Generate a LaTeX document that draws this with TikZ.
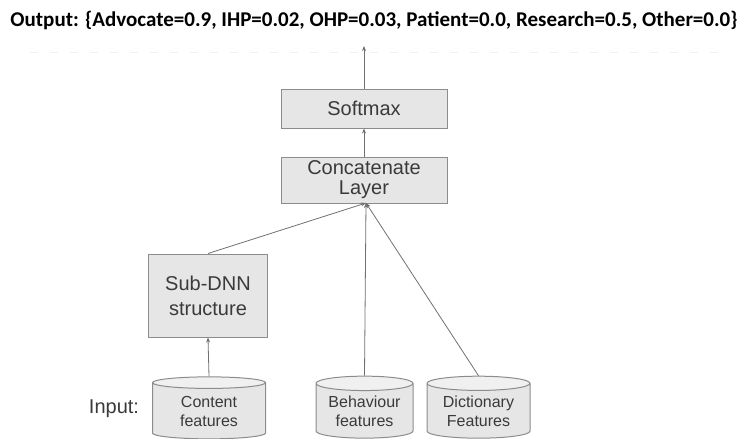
\documentclass[tikz,border=0pt]{standalone}
\usepackage{fontspec}
\setmainfont{Liberation Sans}
\newfontfamily\titlefont{Carlito}
\usepackage{tikz}
\usetikzlibrary{shapes.geometric,arrows.meta}

\definecolor{boxfill}{HTML}{E6E6E6}
\definecolor{boxline}{HTML}{8C8C8C}
\definecolor{boxtext}{HTML}{3A3A3A}
\definecolor{arrline}{HTML}{707070}

\tikzset{
  layer/.style={draw=boxline, fill=boxfill, line width=1pt, text=boxtext,
    font=\fontsize{20}{23}\selectfont, align=center, inner sep=0pt},
  store/.style={cylinder, shape border rotate=90, aspect=0.2, draw=boxline,
    line width=1pt, cylinder uses custom fill, cylinder body fill=boxfill,
    cylinder end fill=boxfill!60, text=boxtext, align=center, inner sep=0pt,
    font=\fontsize{16}{18}\selectfont},
  feed/.style={draw=arrline, line width=0.8pt, -{Stealth[length=5pt,width=4pt]}}
}

\begin{document}
\begin{tikzpicture}[x=1pt,y=-1pt]
  \useasboundingbox (0,0) rectangle (745,439);

 \node[font=\titlefont\bfseries\fontsize{21}{24}\selectfont] (title) at (374,20)
   {Output: \{Advocate=0.9, IHP=0.02, OHP=0.03, Patient=0.0, Research=0.5, Other=0.0\}};
 \draw[gray!12, line width=1pt, dash pattern=on 8pt off 12pt] (30,52) -- (720,52);

 \node[layer, minimum width=166, minimum height=39] (softmax) at (364,108.5) {Softmax};
 \node[layer, minimum width=166, minimum height=46] (concat) at (364,180) {Concatenate\\[-3pt]Layer};
 \node[layer, minimum width=119, minimum height=83] (subdnn) at (208,295.5) {Sub-DNN\\[2pt]structure};

 \node[store, minimum width=113, minimum height=62] (content) at (209,411) {Content\\[1pt]features};
 \node[store, minimum width=97, minimum height=62] (behaviour) at (364.5,411) {Behaviour\\[1pt]features};
 \node[store, minimum width=103, minimum height=62] (dictionary) at (478.5,411) {Dictionary\\[1pt]Features};
 \node[text=boxtext, font=\fontsize{20}{23}\selectfont] (input) at (114,409) {Input:};

 \coordinate (hub) at (366,203);
 \coordinate (out) at (364,46);

\draw[feed] (content.top) -- (subdnn.south);
\draw[feed] (subdnn.north) -- (hub);
\draw[feed] (behaviour.top) -- (hub);
\draw[feed] (dictionary.top) -- (hub);
\draw[feed] (concat.north) -- (softmax.south);
\draw[feed] (softmax.north) -- (out);

\end{tikzpicture}
\end{document}
